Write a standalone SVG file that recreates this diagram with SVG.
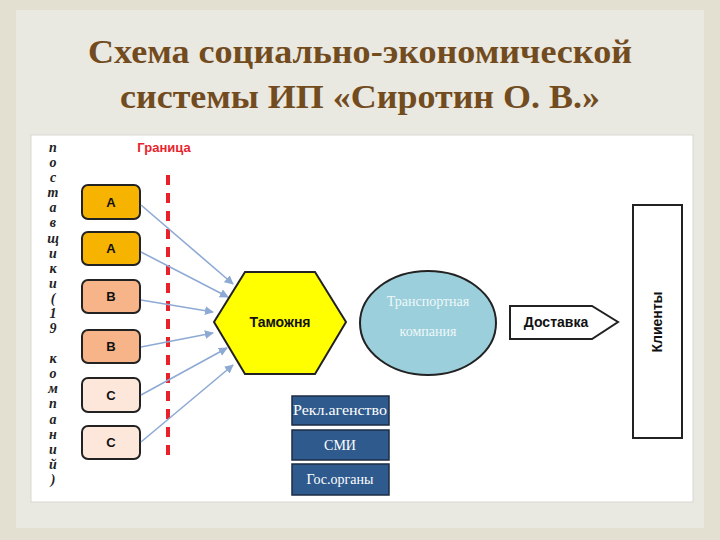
<svg xmlns="http://www.w3.org/2000/svg" width="720" height="540" viewBox="0 0 720 540">
<defs>
<marker id="ah" viewBox="0 0 10 10" refX="9" refY="5" markerWidth="9" markerHeight="9" markerUnits="userSpaceOnUse" orient="auto">
<path d="M0,0 L10,5 L0,10 z" fill="#8eaad4"/>
</marker>
<style>
.title{font-family:"Liberation Serif","DejaVu Serif",serif;font-weight:bold;fill:#724c1e;font-size:33px;text-anchor:middle}
.vl{font-family:"Liberation Serif","DejaVu Serif",serif;font-weight:bold;font-style:italic;font-size:14px;fill:#222;text-anchor:middle}
.sup{stroke:#222;stroke-width:2}
.sl{font-family:"Liberation Sans","DejaVu Sans",sans-serif;font-weight:bold;font-size:13px;fill:#111;text-anchor:middle}
.bl{fill:#2f5a8e;stroke:#1c2c44;stroke-width:1.5}
.bt{font-family:"Liberation Serif","DejaVu Serif",serif;font-size:14px;fill:#fff;text-anchor:middle}
.conn{stroke:#8eaad4;stroke-width:1.6;fill:none;marker-end:url(#ah)}
</style>
</defs>
<rect x="0" y="0" width="720" height="540" fill="#e3e0d2"/>
<rect x="16" y="10" width="688" height="518" fill="#e9e8e1"/>
<rect x="31" y="135" width="662" height="367" fill="#ffffff" stroke="#d8d8d2" stroke-width="1"/>

<g id="title">
<text class="title" x="360" y="63" textLength="544" lengthAdjust="spacingAndGlyphs">Схема социально-экономической</text>
<text class="title" x="360" y="108" textLength="480" lengthAdjust="spacingAndGlyphs">системы ИП «Сиротин О. В.»</text>
</g>

<g id="suppliers-label">
<text class="vl" x="53" y="152">п</text>
<text class="vl" x="53" y="167">о</text>
<text class="vl" x="53" y="182">с</text>
<text class="vl" x="53" y="197">т</text>
<text class="vl" x="53" y="212">а</text>
<text class="vl" x="53" y="227">в</text>
<text class="vl" x="53" y="243">щ</text>
<text class="vl" x="53" y="258">и</text>
<text class="vl" x="53" y="273">к</text>
<text class="vl" x="53" y="288">и</text>
<text class="vl" x="53" y="303">(</text>
<text class="vl" x="53" y="318">1</text>
<text class="vl" x="53" y="333">9</text>
<text class="vl" x="53" y="363">к</text>
<text class="vl" x="53" y="378">о</text>
<text class="vl" x="53" y="393">м</text>
<text class="vl" x="53" y="408">п</text>
<text class="vl" x="53" y="424">а</text>
<text class="vl" x="53" y="439">н</text>
<text class="vl" x="53" y="454">и</text>
<text class="vl" x="53" y="469">й</text>
<text class="vl" x="53" y="484">)</text>
</g>

<g id="border">
<text x="164" y="152" font-family="Liberation Sans, DejaVu Sans, sans-serif" font-weight="bold" font-size="13" fill="#e8232e" text-anchor="middle">Граница</text>
<line x1="168" y1="175" x2="168" y2="463" stroke="#e8202a" stroke-width="4" stroke-dasharray="10,8"/>
</g>

<g id="supplier-a1"><rect class="sup" x="82" y="185" width="58" height="34" rx="6" fill="#f6b300"/><text class="sl" x="111" y="207">А</text></g>
<g id="supplier-a2"><rect class="sup" x="82" y="232" width="58" height="33" rx="6" fill="#f6b300"/><text class="sl" x="111" y="253">А</text></g>
<g id="supplier-b1"><rect class="sup" x="82" y="280" width="58" height="33" rx="6" fill="#f6b488"/><text class="sl" x="111" y="301">В</text></g>
<g id="supplier-b2"><rect class="sup" x="82" y="330" width="58" height="33" rx="6" fill="#f6b488"/><text class="sl" x="111" y="351">В</text></g>
<g id="supplier-c1"><rect class="sup" x="82" y="378" width="58" height="34" rx="6" fill="#fde7da"/><text class="sl" x="111" y="400">С</text></g>
<g id="supplier-c2"><rect class="sup" x="82" y="426" width="58" height="33" rx="6" fill="#fde7da"/><text class="sl" x="111" y="447">С</text></g>

<g id="connectors">
<line class="conn" x1="141" y1="205" x2="233" y2="284"/>
<line class="conn" x1="141" y1="252" x2="228" y2="297"/>
<line class="conn" x1="141" y1="300" x2="213" y2="312"/>
<line class="conn" x1="141" y1="347" x2="213" y2="333"/>
<line class="conn" x1="141" y1="395" x2="227" y2="348"/>
<line class="conn" x1="141" y1="442" x2="233" y2="365"/>
</g>

<g id="customs">
<polygon points="214,322 245,272 315,272 346,322 315,374 245,374" fill="#ffff00" stroke="#222" stroke-width="2"/>
<text x="280" y="327" font-family="Liberation Sans, DejaVu Sans, sans-serif" font-weight="bold" font-size="14" fill="#111" text-anchor="middle">Таможня</text>
</g>

<g id="transport">
<ellipse cx="428" cy="323" rx="68" ry="52" fill="#9bcfdb" stroke="#222" stroke-width="2"/>
<text x="428" y="306" font-family="Liberation Serif, DejaVu Serif, serif" font-size="14" fill="#eef8fa" text-anchor="middle">Транспортная</text>
<text x="428" y="336" font-family="Liberation Serif, DejaVu Serif, serif" font-size="14" fill="#eef8fa" text-anchor="middle">компания</text>
</g>

<g id="ad-agency"><rect class="bl" x="292" y="396" width="97" height="29"/><text class="bt" x="340" y="415" textLength="94" lengthAdjust="spacingAndGlyphs">Рекл.агенство</text></g>
<g id="media"><rect class="bl" x="292" y="430" width="97" height="30"/><text class="bt" x="340" y="450">СМИ</text></g>
<g id="government"><rect class="bl" x="292" y="464" width="97" height="31"/><text class="bt" x="340" y="484">Гос.органы</text></g>

<g id="delivery">
<polygon points="510,306 592,306 618,322 592,339 510,339" fill="#ffffff" stroke="#222" stroke-width="2"/>
<text x="556" y="327" font-family="Liberation Sans, DejaVu Sans, sans-serif" font-weight="bold" font-size="14" fill="#111" text-anchor="middle">Доставка</text>
</g>

<g id="clients">
<rect x="633" y="205" width="49" height="233" fill="#ffffff" stroke="#222" stroke-width="2"/>
<text x="0" y="0" transform="translate(662,322) rotate(-90)" font-family="Liberation Sans, DejaVu Sans, sans-serif" font-weight="bold" font-size="14" fill="#111" text-anchor="middle">Клиенты</text>
</g>
</svg>
